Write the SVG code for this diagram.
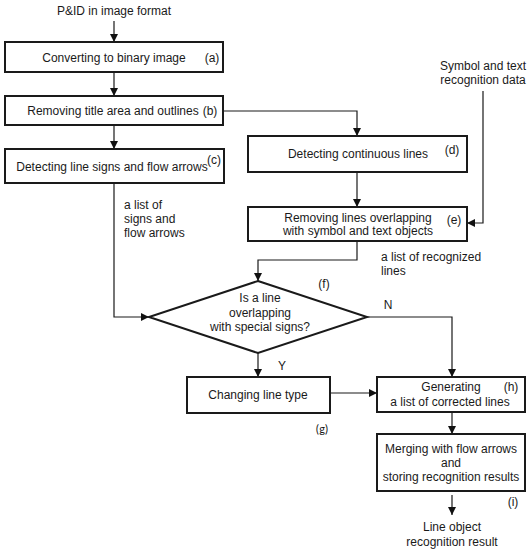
<svg xmlns="http://www.w3.org/2000/svg" width="530" height="550" viewBox="0 0 530 550">
<defs>
<marker id="arr" viewBox="0 0 10 10" refX="10" refY="5" markerWidth="8" markerHeight="8" markerUnits="userSpaceOnUse" orient="auto">
<path d="M0,0 L10,5 L0,10 z" fill="#111"/>
</marker>
<style>
.box{fill:#fff;stroke:#1a1a1a;stroke-width:2}
.t{font-family:"Liberation Sans",Arial,sans-serif;font-size:12px;fill:#1a1a1a;text-anchor:middle}
.l{font-family:"Liberation Sans",Arial,sans-serif;font-size:12px;fill:#1a1a1a}
.c{fill:none;stroke:#1a1a1a;stroke-width:1.2;marker-end:url(#arr)}
.p{fill:none;stroke:#1a1a1a;stroke-width:1.2}
</style>
</defs>
<rect width="530" height="550" fill="#fff"/>
<g id="connectors">
<path class="c" d="M114,21 V42"/>
<path class="c" d="M114,72 V96"/>
<path class="c" d="M114,125 V149"/>
<path class="c" d="M223,111 H357 V136"/>
<path class="c" d="M357,172 V207"/>
<path class="c" d="M483,91 V223 H467"/>
<path class="c" d="M114,183 V317 H149"/>
<path class="c" d="M357,241 V260 H258 V281"/>
<path class="c" d="M258,353 V377"/>
<path class="c" d="M367,317 H452 V377"/>
<path class="c" d="M330,393 H377"/>
<path class="c" d="M452,412 V434"/>
<path class="c" d="M452,495 V515"/>
</g>
<g id="input">
<text class="t" x="114" y="15">P&amp;ID in image format</text>
</g>
<g id="symdata">
<text class="t" x="483" y="70">Symbol and text</text>
<text class="t" x="483" y="84">recognition data</text>
</g>
<g id="a">
<rect class="box" x="5" y="42" width="218" height="30"/>
<text class="t" x="114" y="62">Converting to binary image</text>
<text class="t" x="212" y="62">(a)</text>
</g>
<g id="b">
<rect class="box" x="5" y="96" width="218" height="29"/>
<text class="t" x="113" y="115">Removing title area and outlines</text>
<text class="t" x="210" y="115">(b)</text>
</g>
<g id="c">
<rect class="box" x="5" y="149" width="219" height="34"/>
<text class="t" x="112" y="171">Detecting line signs and flow arrows</text>
<text class="t" x="214" y="164">(c)</text>
</g>
<g id="signs-label">
<text class="l" x="124" y="209">a list of</text>
<text class="l" x="124" y="223">signs and</text>
<text class="l" x="124" y="237">flow arrows</text>
</g>
<g id="d">
<rect class="box" x="248" y="136" width="219" height="36"/>
<text class="t" x="358" y="158">Detecting continuous lines</text>
<text class="t" x="452" y="154">(d)</text>
</g>
<g id="e">
<rect class="box" x="248" y="207" width="219" height="34"/>
<text class="t" x="358" y="222">Removing lines overlapping</text>
<text class="t" x="358" y="235">with symbol and text objects</text>
<text class="t" x="454" y="224">(e)</text>
</g>
<g id="lines-label">
<text class="l" x="381" y="261">a list of recognized</text>
<text class="l" x="381" y="275">lines</text>
</g>
<g id="f">
<polygon class="box" points="258,281 367,317 258,353 149,317"/>
<text class="t" x="260" y="302">Is a line</text>
<text class="t" x="260" y="317">overlapping</text>
<text class="t" x="260" y="331">with special signs?</text>
<text class="t" x="324" y="288">(f)</text>
<text class="t" x="388" y="309">N</text>
<text class="t" x="282" y="370">Y</text>
</g>
<g id="g">
<rect class="box" x="187" y="377" width="143" height="36"/>
<text class="t" x="258" y="399">Changing line type</text>
<text class="t" x="322" y="433" style="font-family:Carlito,'Liberation Sans',sans-serif">(g)</text>
</g>
<g id="h">
<rect class="box" x="377" y="377" width="148" height="35"/>
<text class="t" x="451" y="391">Generating</text>
<text class="t" x="450" y="406">a list of corrected lines</text>
<text class="t" x="511" y="391">(h)</text>
</g>
<g id="i">
<rect class="box" x="377" y="434" width="148" height="57"/>
<text class="t" x="451" y="453">Merging with flow arrows</text>
<text class="t" x="451" y="467">and</text>
<text class="t" x="451" y="481">storing recognition results</text>
<text class="t" x="513" y="506">(i)</text>
</g>
<g id="result">
<text class="t" x="452" y="531">Line object</text>
<text class="t" x="452" y="546">recognition result</text>
</g>
</svg>
